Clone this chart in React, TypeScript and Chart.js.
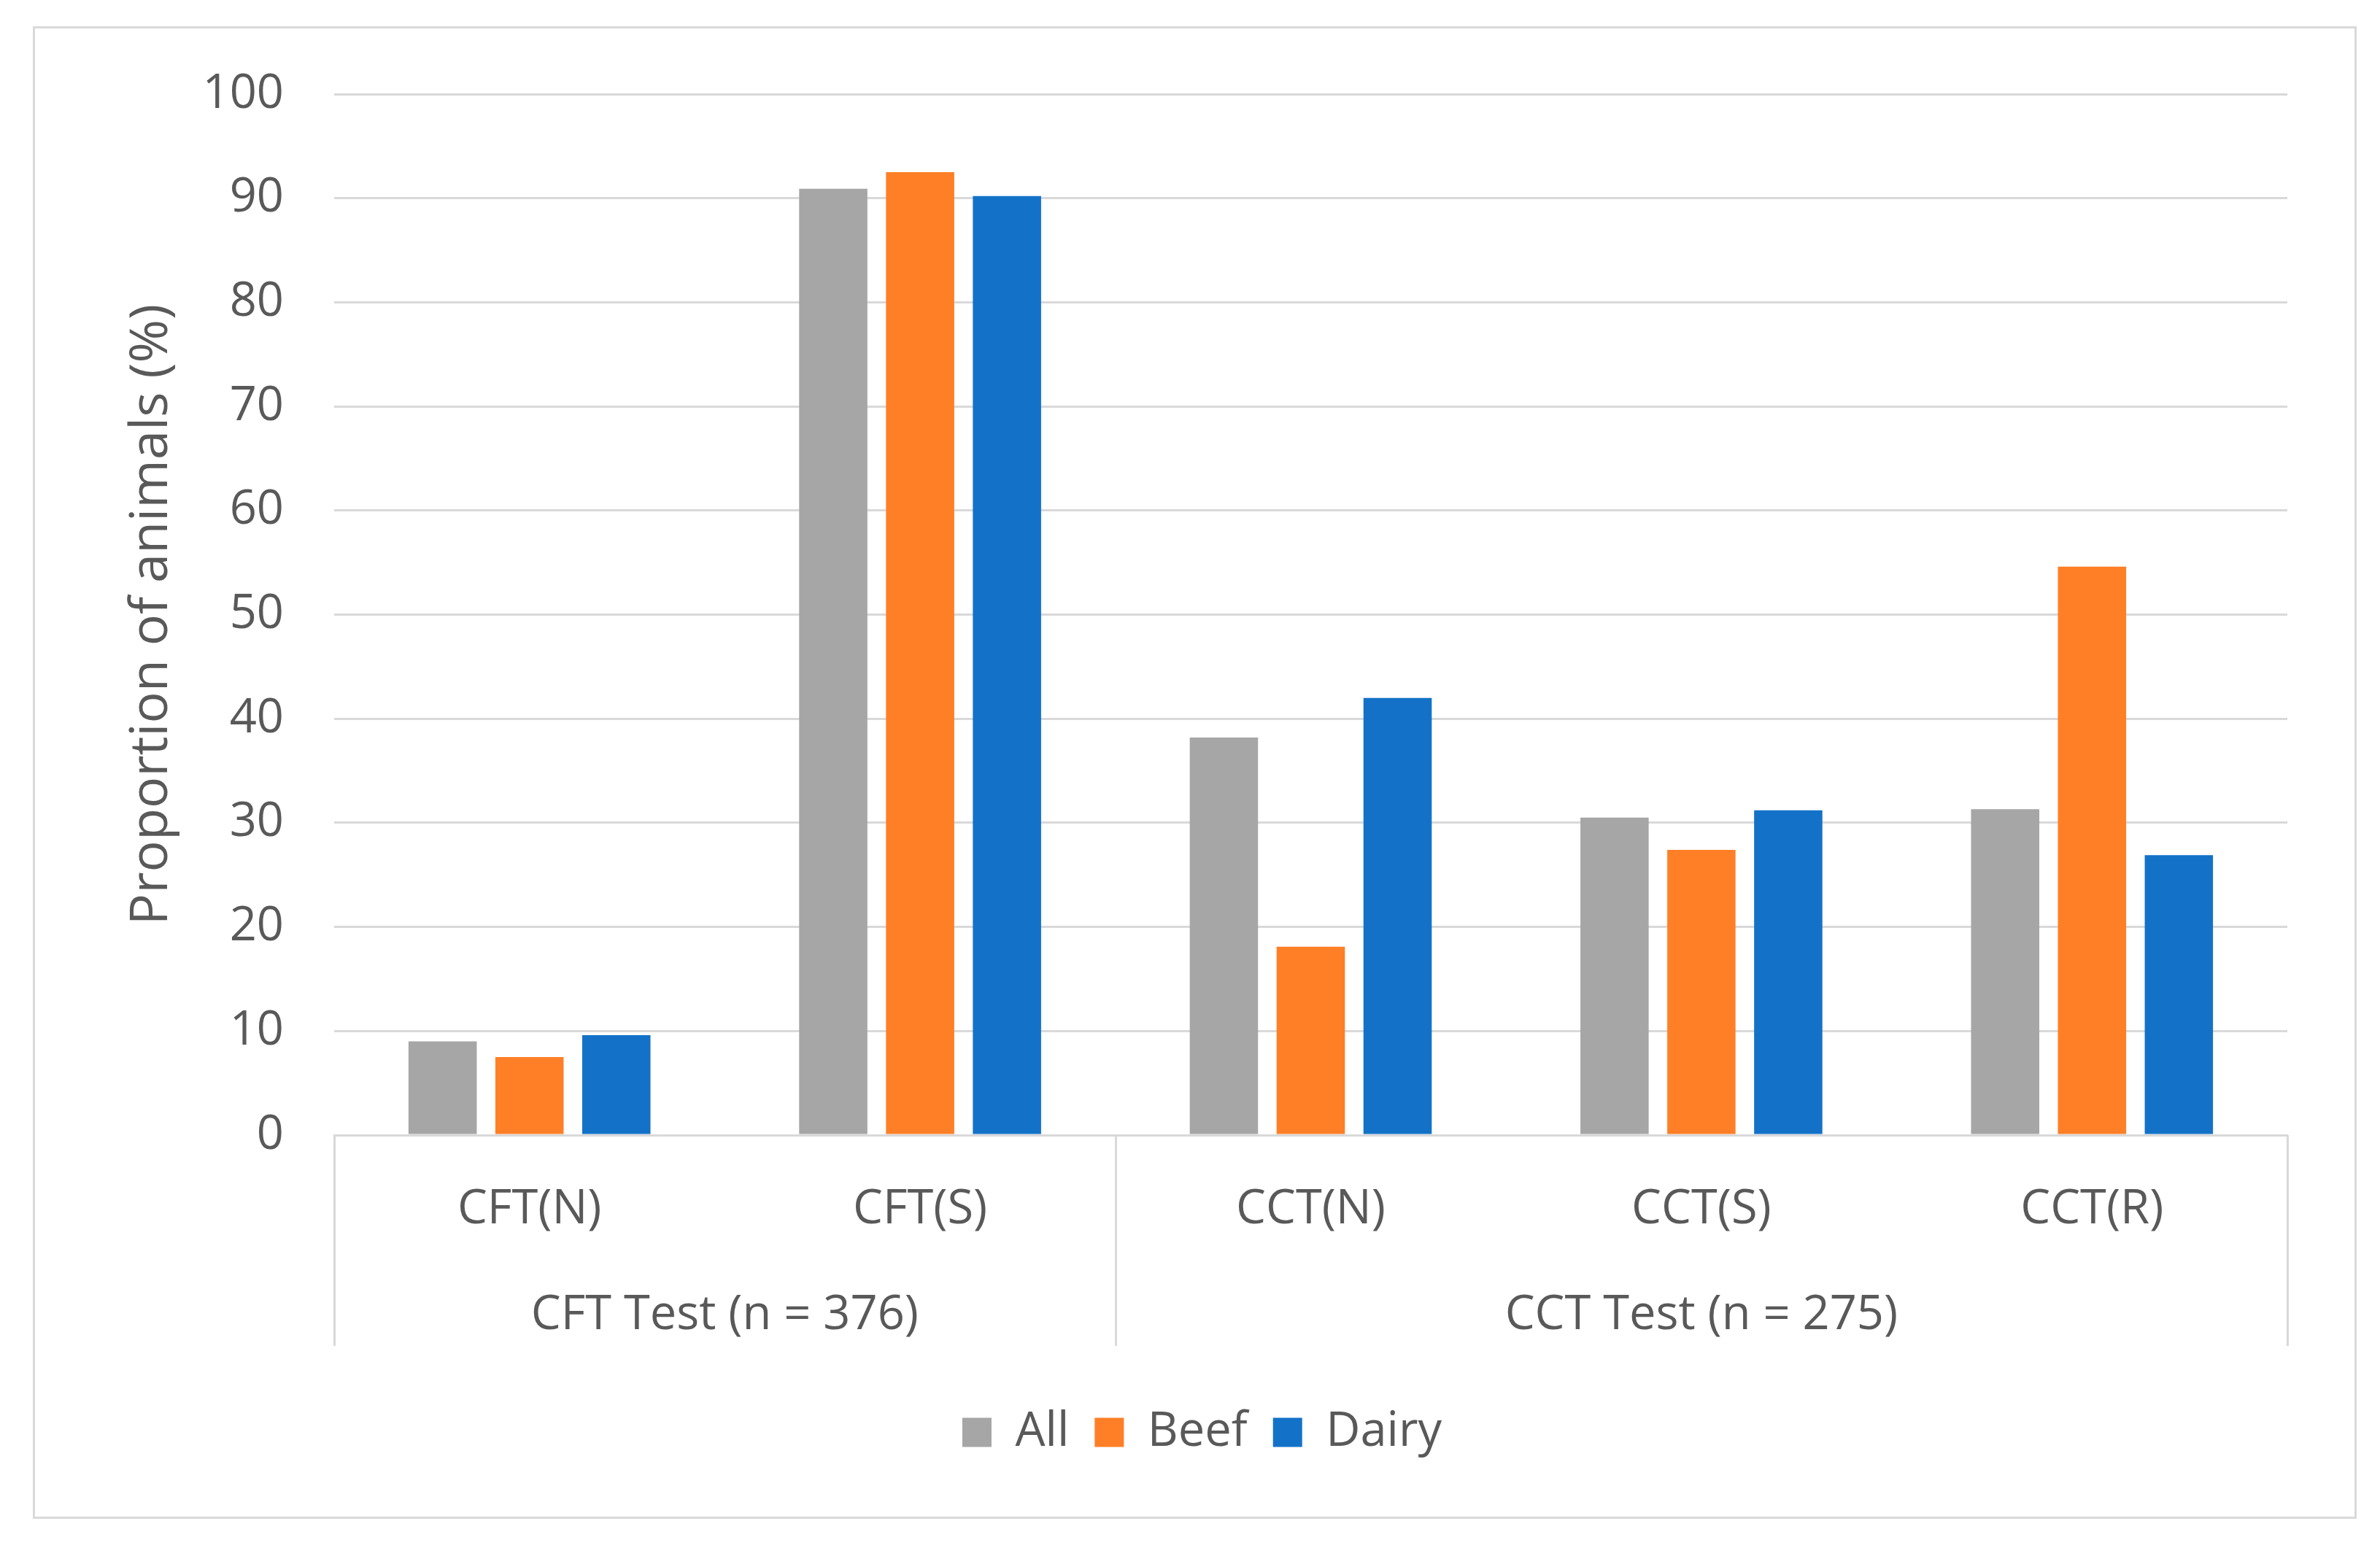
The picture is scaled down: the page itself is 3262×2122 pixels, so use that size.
import React, { useEffect, useRef } from 'react';
import { Chart, registerables } from 'chart.js';

Chart.register(...registerables);

const categories = ['CFT(N)', 'CFT(S)', 'CCT(N)', 'CCT(S)', 'CCT(R)'];
const groupLabels = ['CFT Test (n = 376)', 'CCT Test (n = 275)'];
const groupSizes = [2, 3];
const seriesNames = ['All', 'Beef', 'Dairy'];
const allValues = [9.0, 90.9, 38.2, 30.5, 31.3];
const beefValues = [7.5, 92.5, 18.1, 27.4, 54.6];
const dairyValues = [9.6, 90.2, 42.0, 31.2, 26.9];
const seriesColors = ['#a6a6a6', '#ff7f27', '#1372c8'];
const yMin = 0;
const yMax = 100;
const yStep = 10;
const yTitle = 'Proportion of animals (%)';

const W = 3262;
const H = 2122;
const FONT = "'Open Sans', sans-serif";
const TEXT = '#595959';
const LINE = '#d9d9d9';

const framePlugin = {
  id: 'frame',
  beforeDraw(chart: any) {
    const ctx = chart.ctx;
    ctx.save();
    ctx.fillStyle = '#ffffff';
    ctx.fillRect(0, 0, chart.width, chart.height);
    ctx.strokeStyle = LINE;
    ctx.lineWidth = 3;
    ctx.strokeRect(46.5, 37.5, 3182, 2043);
    ctx.restore();
  },
  afterDraw(chart: any) {
    const ctx = chart.ctx;
    const xs = chart.scales.x;
    const area = chart.chartArea;
    const bounds: number[] = [-0.5];
    let idx = 0;
    groupSizes.forEach((s) => {
      idx += s;
      bounds.push(idx - 0.5);
    });
    ctx.save();
    ctx.strokeStyle = LINE;
    ctx.lineWidth = 3;
    bounds.forEach((b) => {
      const px = Math.round(xs.getPixelForValue(b)) + 0.5;
      ctx.beginPath();
      ctx.moveTo(px, area.bottom);
      ctx.lineTo(px, area.bottom + 289);
      ctx.stroke();
    });
    ctx.fillStyle = TEXT;
    ctx.font = `65px ${FONT}`;
    ctx.textAlign = 'center';
    ctx.textBaseline = 'middle';
    groupLabels.forEach((g, i) => {
      const x0 = xs.getPixelForValue(bounds[i]);
      const x1 = xs.getPixelForValue(bounds[i + 1]);
      ctx.fillText(g, (x0 + x1) / 2, area.bottom + 247);
    });
    ctx.restore();
  },
};

export default function App() {
  const ref = useRef<HTMLCanvasElement | null>(null);
  useEffect(() => {
    if (!ref.current) return;
    const values = [allValues, beefValues, dairyValues];
    const chart = new Chart(ref.current, {
      type: 'bar',
      data: {
        labels: categories,
        datasets: seriesNames.map((n, i) => ({
          label: n,
          data: values[i],
          backgroundColor: seriesColors[i],
          borderWidth: 0,
          categoryPercentage: 0.667,
          barPercentage: 0.786,
        })),
      },
      options: {
        responsive: false,
        animation: false,
        devicePixelRatio: 1,
        layout: { padding: { left: 160, right: 127, top: 129, bottom: 116 } },
        plugins: {
          tooltip: { enabled: false },
          legend: {
            position: 'bottom',
            labels: {
              color: TEXT,
              font: { family: FONT, size: 65 },
              boxWidth: 40,
              boxHeight: 40,
              padding: 35,
            },
          },
        },
        scales: {
          x: {
            grid: { display: false },
            border: { display: true, color: LINE, width: 3 },
            ticks: {
              color: TEXT,
              font: { family: FONT, size: 65 },
              padding: 55,
              maxRotation: 0,
              autoSkip: false,
            },
            afterFit: (s: any) => {
              s.height = 340;
            },
          },
          y: {
            min: yMin,
            max: yMax,
            grid: { color: LINE, lineWidth: 3, drawTicks: false },
            border: { display: false },
            ticks: {
              stepSize: yStep,
              color: TEXT,
              font: { family: FONT, size: 65 },
              padding: 69,
            },
            title: {
              display: true,
              text: yTitle,
              color: TEXT,
              font: { family: FONT, size: 72 },
              padding: { top: 5, bottom: 0 },
            },
            afterFit: (s: any) => {
              s.width = 298;
            },
          },
        },
      },
      plugins: [framePlugin],
    });
    return () => chart.destroy();
  }, []);
  return (
    <div style={{ position: 'absolute', left: 0, top: 0, width: W, height: H }}>
      <canvas ref={ref} width={W} height={H} style={{ width: W, height: H, display: 'block' }} />
    </div>
  );
}
